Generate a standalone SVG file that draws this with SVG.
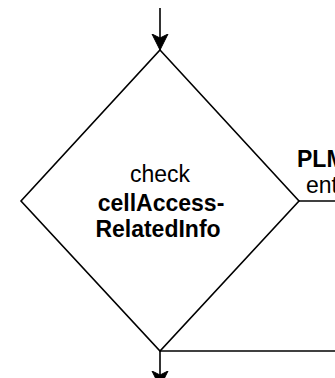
<svg xmlns="http://www.w3.org/2000/svg" width="335" height="378" viewBox="0 0 335 378">
  <style>
    .edge { fill: none; stroke: #000; stroke-width: 1.6; }
    .shape { fill: #fff; stroke: #000; stroke-width: 1.6; }
    .lbl { font-family: "Liberation Sans", Arial, Helvetica, sans-serif; font-size: 23px; fill: #000; }
    .b { font-weight: bold; }
  </style>
  <defs>
    <marker id="arrow" viewBox="0 0 16 18" refX="16" refY="9" markerWidth="16" markerHeight="18" markerUnits="userSpaceOnUse" orient="auto">
      <path d="M0,1 L16,9 L0,17 L4,9 Z" fill="#000" stroke="#000" stroke-width="1"/>
    </marker>
  </defs>
  <rect width="335" height="378" fill="#fff"/>

  <!-- connectors -->
  <g id="connectors">
    <path class="edge" d="M160,8 L160,50" marker-end="url(#arrow)"/>
    <path class="edge" d="M299,201 L335,201"/>
    <path class="edge" d="M160,351 L335,351"/>
    <path class="edge" d="M160,351 L160,387" marker-end="url(#arrow)"/>
  </g>

  <!-- decision node -->
  <g id="check-cellAccessRelatedInfo">
    <path class="shape" d="M160,50 L299,201 L160,351 L21,201 Z"/>
    <text class="lbl" x="160" y="182" text-anchor="middle">check</text>
    <text class="lbl b" x="161" y="211" text-anchor="middle">cellAccess-</text>
    <text class="lbl b" x="158" y="237" text-anchor="middle">RelatedInfo</text>
  </g>

  <!-- label on the right branch -->
  <g id="plmBranchLabel">
    <text class="lbl b" x="297" y="167">PLM</text>
    <text class="lbl" x="306" y="193">ent</text>
  </g>
</svg>
